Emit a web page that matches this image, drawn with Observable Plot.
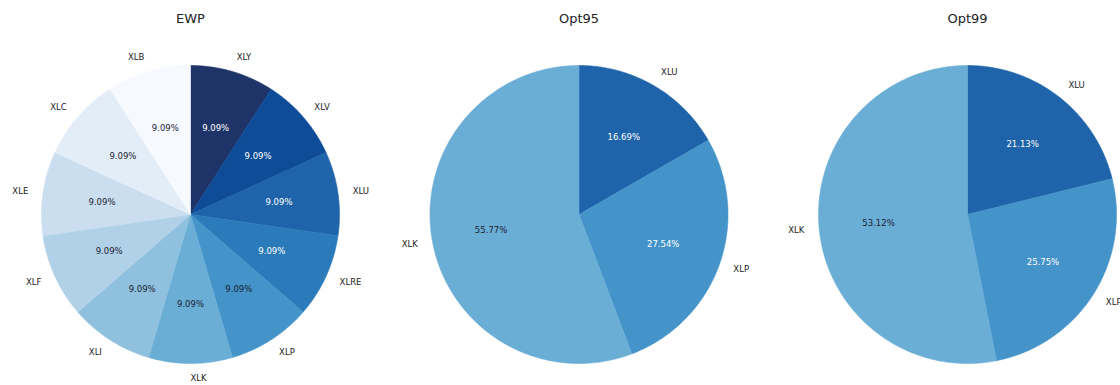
<!DOCTYPE html>
<html>
<head>
<meta charset="utf-8">
<script src="https://cdn.jsdelivr.net/npm/d3@7"></script>
<script src="https://cdn.jsdelivr.net/npm/@observablehq/plot@0.6"></script>
<style>
  html, body { margin: 0; padding: 0; background: #fff; }
  #chart { width: 1120px; height: 385px; }
</style>
</head>
<body>
<div id="chart"></div>
<script>
// ---- data ----
const chartNames = ["EWP", "Opt95", "Opt99"];
const ewpTickers = ["XLY", "XLV", "XLU", "XLRE", "XLP", "XLK", "XLI", "XLF", "XLE", "XLC", "XLB"];
const ewpWeights = [9.09, 9.09, 9.09, 9.09, 9.09, 9.09, 9.09, 9.09, 9.09, 9.09, 9.09];
const opt95Tickers = ["XLU", "XLP", "XLK"];
const opt95Weights = [16.69, 27.54, 55.77];
const opt99Tickers = ["XLU", "XLP", "XLK"];
const opt99Weights = [21.13, 25.75, 53.12];

// ---- layout (pixels -> units of pie radius) ----
const R = 149;
const cx0 = 190, cy = 214, step = 388.5;
const W = 1120, H = 385;

const tickerColors = ["#1e3468", "#0f4c98", "#1f64aa", "#2b7bbb", "#4494ca", "#6aaed6",
                      "#8fc1de", "#b0d1e7", "#cadef0", "#e2edf8", "#f6faff"];

const series = [
  {name: chartNames[0], tickers: ewpTickers, weights: ewpWeights, thr: 54},
  {name: chartNames[1], tickers: opt95Tickers, weights: opt95Weights, thr: 63},
  {name: chartNames[2], tickers: opt99Tickers, weights: opt99Weights, thr: 63}
];

const colorOf = t => tickerColors[ewpTickers.indexOf(t)];

const polys = [];
const names = [];
const pcts = [];
const titles = [];
series.forEach((s, i) => {
  const cx = i * step / R;
  titles.push({x: cx, y: (cy - 18) / R, text: s.name});
  const total = d3.sum(s.weights);
  let a = 0;
  s.tickers.forEach((t, j) => {
    const frac = s.weights[j] / total;
    const a0 = a, a1 = a + frac * 2 * Math.PI;
    a = a1;
    const key = s.name + "-" + t;
    polys.push({key, ticker: t, x: cx, y: 0});
    const n = Math.max(2, Math.ceil((a1 - a0) / (Math.PI / 360)));
    for (let k = 0; k <= n; k++) {
      const th = a0 + (a1 - a0) * k / n;
      polys.push({key, ticker: t, x: cx + Math.sin(th), y: Math.cos(th)});
    }
    polys.push({key, ticker: t, x: cx, y: 0});
    const mid = (a0 + a1) / 2;
    const nx = Math.sin(mid), ny = Math.cos(mid);
    names.push({x: cx + 1.1 * nx, y: 1.1 * ny, text: t, right: nx >= 0});
    const light = d3.lab(colorOf(t)).l >= s.thr;
    pcts.push({x: cx + 0.6 * nx, y: 0.6 * ny, text: (s.weights[j]).toFixed(2) + "%", dark: light});
  });
});

const plot = Plot.plot({
  width: W,
  height: H,
  margin: 0,
  style: {fontFamily: "'DejaVu Sans', sans-serif", background: "#fff"},
  x: {domain: [-cx0 / R, (W - cx0) / R], axis: null},
  y: {domain: [-(H - cy) / R, cy / R], axis: null},
  color: {type: "ordinal", domain: ewpTickers, range: tickerColors},
  marks: [
    Plot.line(polys, {x: "x", y: "y", z: "key", fill: "ticker", stroke: "ticker", strokeWidth: 0.6, curve: "linear"}),
    Plot.text(names.filter(d => d.right), {x: "x", y: "y", text: "text", textAnchor: "start", fontSize: 8.5, fill: "#222"}),
    Plot.text(names.filter(d => !d.right), {x: "x", y: "y", text: "text", textAnchor: "end", fontSize: 8.5, fill: "#222"}),
    Plot.text(pcts.filter(d => d.dark), {x: "x", y: "y", text: "text", fontSize: 8.5, fill: "#1c2333"}),
    Plot.text(pcts.filter(d => !d.dark), {x: "x", y: "y", text: "text", fontSize: 8.5, fill: "#ffffff"}),
    Plot.text(titles, {x: "x", y: "y", text: "text", fontSize: 13, fill: "#222"})
  ]
});
document.getElementById("chart").appendChild(plot);
</script>
</body>
</html>
